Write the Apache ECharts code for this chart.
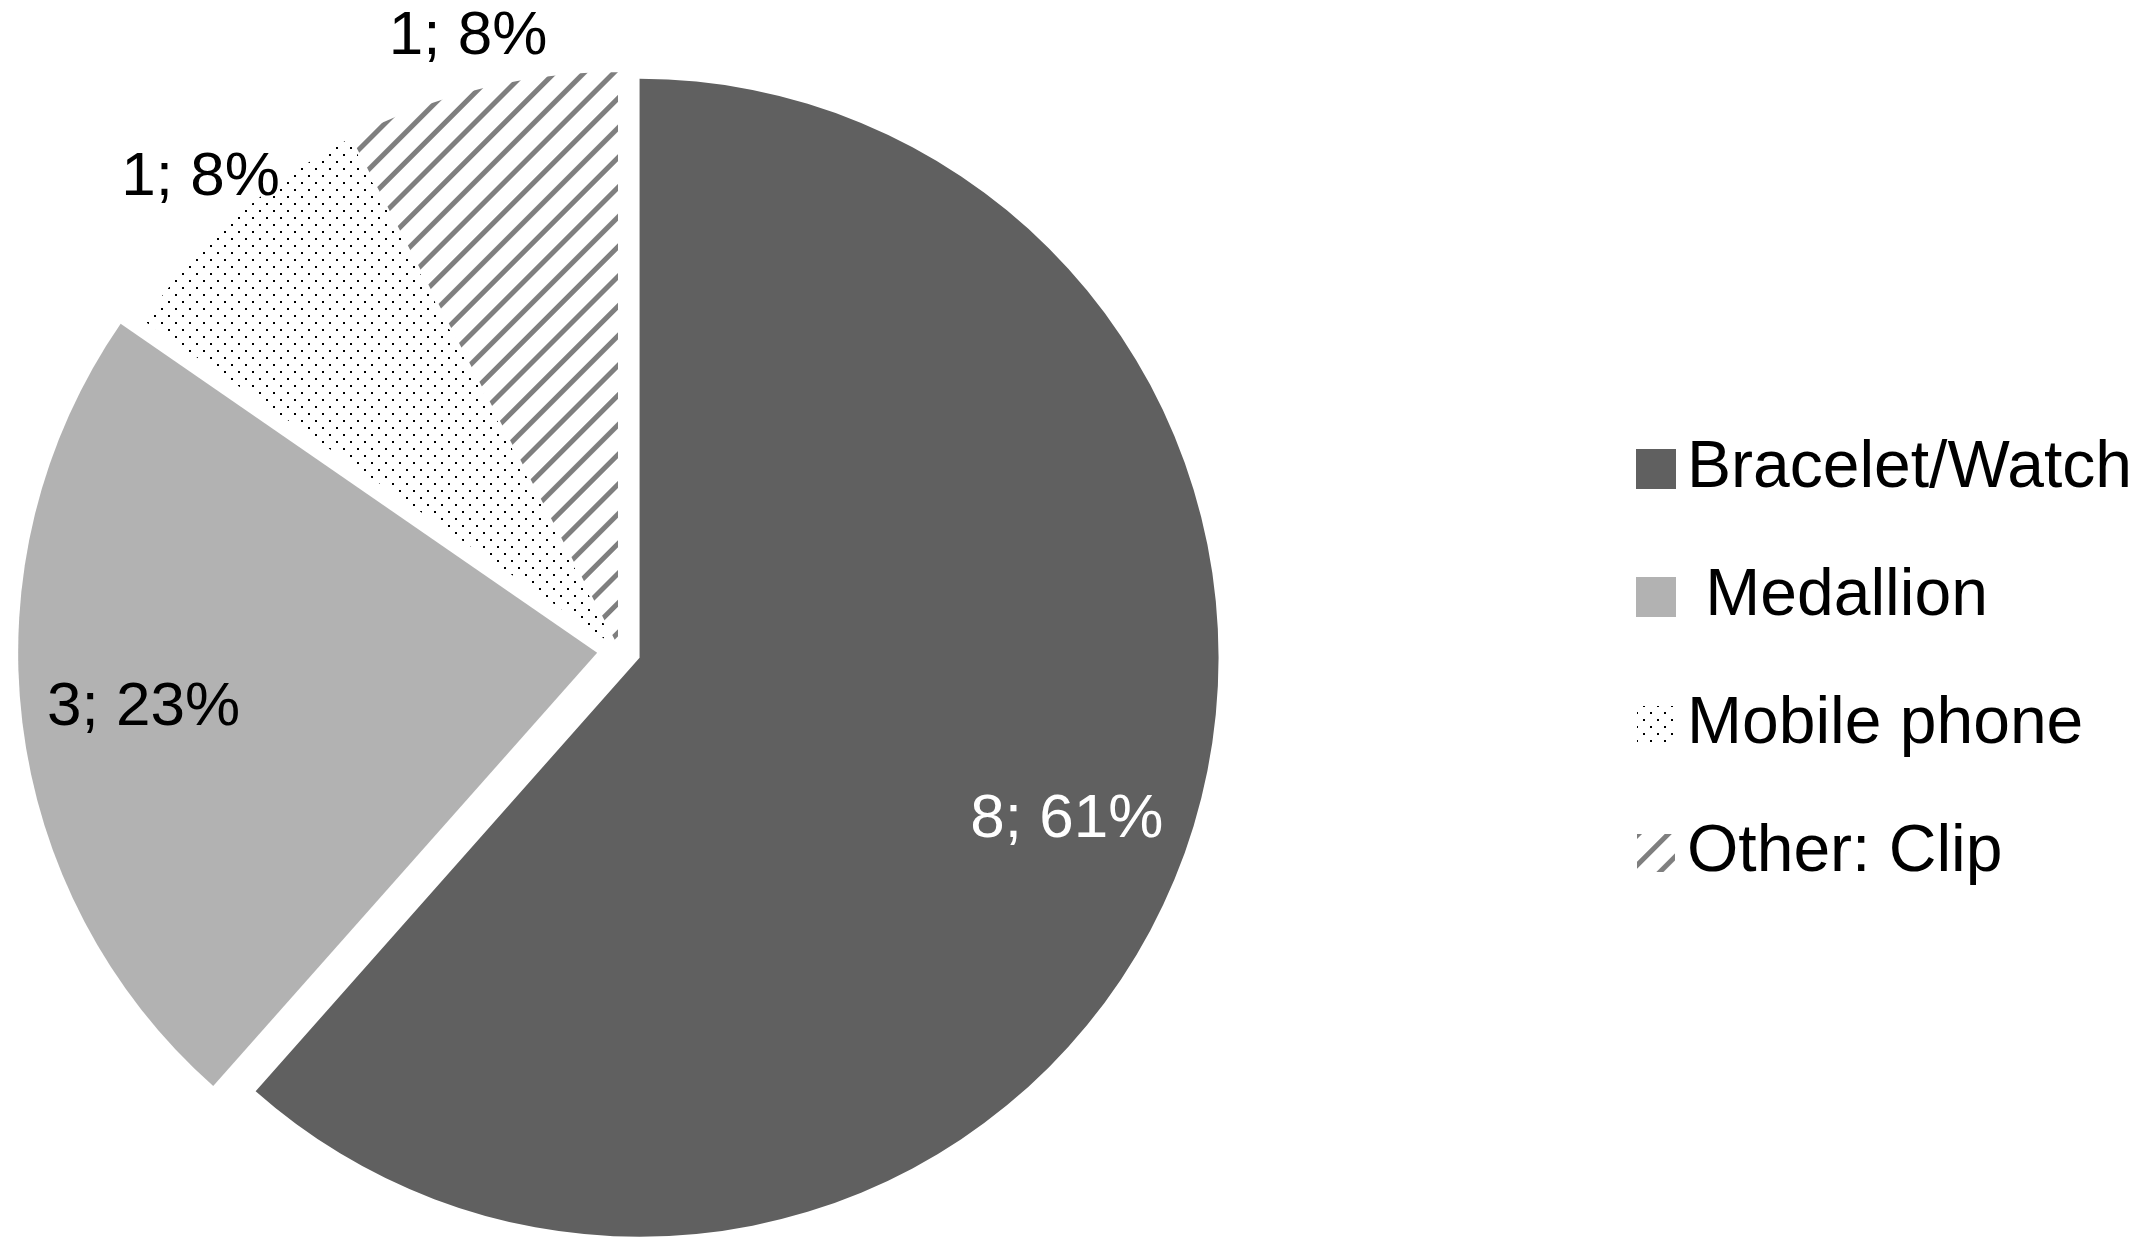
<!DOCTYPE html>
<html>
<head>
<meta charset="utf-8">
<script src="https://cdn.jsdelivr.net/npm/echarts@6/dist/echarts.min.js"></script>
<style>
  html, body { margin: 0; padding: 0; background: #fff; }
  #chart { width: 2153px; height: 1254px; }
</style>
</head>
<body>
<div id="chart"></div>
<script>
// data
const categories = ['Bracelet/Watch', ' Medallion', 'Mobile phone', 'Other: Clip'];
const counts = [8, 3, 1, 1];
const percents = [61, 23, 8, 8];

const FONT = '"Liberation Sans", Arial, sans-serif';
const CENTER = [619, 650];
const R = 579;
const total = counts.reduce((a, b) => a + b, 0);
const isBig = i => counts[i] / total > 0.2; // big slices are pulled out and labelled inside

const sliceStyles = [
  { color: '#606060' },
  { color: '#b2b2b2' },
  {
    color: '#ffffff',
    decal: {
      symbol: 'rect', symbolSize: 1, color: '#000000', backgroundColor: 'rgba(0,0,0,0)',
      dashArrayX: [[2, 12], [0, 7, 2, 5]], dashArrayY: [2, 5], rotation: 0
    }
  },
  {
    color: '#ffffff',
    decal: {
      symbol: 'rect', symbolSize: 1, color: '#7f7f7f', backgroundColor: 'rgba(0,0,0,0)',
      dashArrayX: [1, 0], dashArrayY: [5, 16], rotation: -Math.PI / 4
    }
  }
];
const labelColors = ['#ffffff', '#000000', '#000000', '#000000'];

const labelText = p => counts[p.dataIndex] + '; ' + percents[p.dataIndex] + '%';

const common = {
  type: 'pie',
  center: CENTER,
  startAngle: 90,
  clockwise: true,
  selectedMode: 'multiple',
  selectedOffset: 22,
  silent: true,
  emphasis: { disabled: true },
  labelLine: { show: false },
  animation: false
};

const chart = echarts.init(document.getElementById('chart'));
const option = {
  backgroundColor: '#ffffff',
  legend: {
    orient: 'vertical',
    left: 1630,
    top: 431,
    itemWidth: 40,
    itemHeight: 40,
    itemGap: 62,
    selectedMode: false,
    icon: 'rect',
    data: categories,
    textStyle: { fontFamily: FONT, fontSize: 66, lineHeight: 66, color: '#000', padding: [0, 0, 0, 6] }
  },
  series: [
    // the slices
    Object.assign({}, common, {
      name: 'slices',
      radius: R,
      label: { show: false },
      data: categories.map((n, i) => ({
        name: n,
        value: counts[i],
        selected: isBig(i),
        itemStyle: Object.assign({ borderColor: '#fff', borderWidth: isBig(i) ? 0 : 2 }, sliceStyles[i])
      }))
    }),
    // labels sitting inside the big slices
    Object.assign({}, common, {
      name: 'inner labels',
      radius: [329, R],
      itemStyle: { color: 'rgba(0,0,0,0)', borderWidth: 0 },
      data: categories.map((n, i) => ({
        name: n,
        value: counts[i],
        selected: isBig(i),
        label: { show: isBig(i), color: labelColors[i] }
      })),
      label: { position: 'inside', formatter: labelText, fontFamily: FONT, fontSize: 62 }
    }),
    // labels outside the small slices
    Object.assign({}, common, {
      name: 'outer labels',
      radius: [R, 677],
      itemStyle: { color: 'rgba(0,0,0,0)', borderWidth: 0 },
      data: categories.map((n, i) => ({
        name: n,
        value: counts[i],
        selected: isBig(i),
        label: { show: !isBig(i), color: labelColors[i] }
      })),
      label: { position: 'inside', formatter: labelText, fontFamily: FONT, fontSize: 62 }
    })
  ]
};
chart.setOption(option);
window.addEventListener('resize', () => chart.resize());
</script>
</body>
</html>
